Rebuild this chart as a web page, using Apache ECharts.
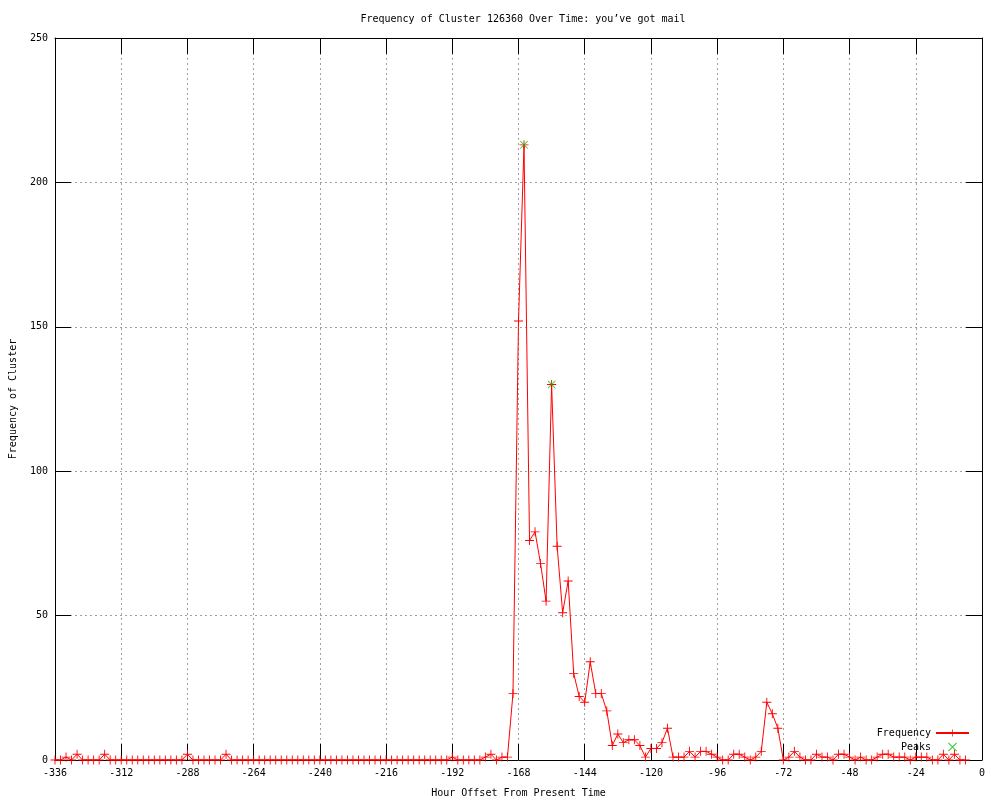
<!DOCTYPE html>
<html>
<head>
<meta charset="utf-8">
<script src="https://cdn.jsdelivr.net/npm/echarts@6/dist/echarts.min.js"></script>
<style>html,body{margin:0;padding:0;background:#fff}#c{width:1000px;height:800px}</style>
</head>
<body>
<div id="c"></div>
<script>
const titleText = 'Frequency of Cluster 126360 Over Time: you’ve got mail';
const xName = 'Hour Offset From Present Time';
const yName = 'Frequency of Cluster';
const xTicks = [-336, 0, 24];   // min, max, interval
const yTicks = [0, 250, 50];
const hours = [
  -336,-334,-332,-330,-328,-326,-324,-322,-320,-318,-316,-314,
  -312,-310,-308,-306,-304,-302,-300,-298,-296,-294,-292,-290,
  -288,-286,-284,-282,-280,-278,-276,-274,-272,-270,-268,-266,
  -264,-262,-260,-258,-256,-254,-252,-250,-248,-246,-244,-242,
  -240,-238,-236,-234,-232,-230,-228,-226,-224,-222,-220,-218,
  -216,-214,-212,-210,-208,-206,-204,-202,-200,-198,-196,-194,
  -192,-190,-188,-186,-184,-182,-180,-178,-176,-174,-172,-170,
  -168,-166,-164,-162,-160,-158,-156,-154,-152,-150,-148,-146,
  -144,-142,-140,-138,-136,-134,-132,-130,-128,-126,-124,-122,
  -120,-118,-116,-114,-112,-110,-108,-106,-104,-102,-100,-98,
  -96,-94,-92,-90,-88,-86,-84,-82,-80,-78,-76,-74,
  -72,-70,-68,-66,-64,-62,-60,-58,-56,-54,-52,-50,
  -48,-46,-44,-42,-40,-38,-36,-34,-32,-30,-28,-26,
  -24,-22,-20,-18,-16,-14,-12,-10,-8,-6
];
const frequency = [
  0,0,1,0,2,0,0,0,0,2,0,0,
  0,0,0,0,0,0,0,0,0,0,0,0,
  2,0,0,0,0,0,0,2,0,0,0,0,
  0,0,0,0,0,0,0,0,0,0,0,0,
  0,0,0,0,0,0,0,0,0,0,0,0,
  0,0,0,0,0,0,0,0,0,0,0,0,
  1,0,0,0,0,0,1,2,0,1,1,23,
  152,213,76,79,68,55,130,74,51,62,30,22,
  20,34,23,23,17,5,9,6,7,7,5,1,
  4,4,6,11,1,1,1,3,1,3,3,2,
  1,0,0,2,2,1,0,1,3,20,16,11,
  0,1,3,1,0,0,2,1,1,0,2,2,
  1,0,1,0,0,1,2,2,1,1,1,0,
  1,1,1,0,0,2,0,2,0,0
];
const peakHours = [-166, -156];
const peakValues = [213, 130];

const FONT = 'DejaVu Sans Mono';
const plusPath = 'path://M0,4.5H10V5.5H0Z M4.5,0H5.5V10H4.5Z';
const crossPath = 'path://M0,0.8L0.8,0L10,9.2L9.2,10Z M9.2,0L10,0.8L0.8,10L0,9.2Z';

const freqData = hours.map((h, i) => [h, frequency[i]]);
const peakData = peakHours.map((h, i) => [h, peakValues[i]]);

const chart = echarts.init(document.getElementById('c'), null, {renderer: 'canvas'});
const tickStyle = {inside: true, length: 16, lineStyle: {color: '#000', width: 1}};
const gridLine = {show: true, showMinLine: false, showMaxLine: false, lineStyle: {color: '#a0a0a0', type: [2, 3], width: 1}};
chart.setOption({
  animation: false,
  backgroundColor: '#fff',
  textStyle: {fontFamily: FONT, fontSize: 10, color: '#000'},
  title: {
    text: titleText, left: 518, top: 9, textAlign: 'center',
    textStyle: {fontFamily: FONT, fontSize: 10, fontWeight: 'normal', color: '#000'}
  },
  grid: {left: 55, right: 18, top: 38, bottom: 40, containLabel: false, outerBoundsMode: 'none'},
  legend: {
    orient: 'vertical', right: 30, top: 728, align: 'right', padding: 0,
    itemWidth: 33, itemHeight: 9, itemGap: 4,
    textStyle: {fontFamily: FONT, fontSize: 10, color: '#000'},
    data: ['Frequency', 'Peaks']
  },
  xAxis: [{
    type: 'value', min: xTicks[0], max: xTicks[1], interval: xTicks[2], position: 'bottom',
    name: xName, nameLocation: 'middle', nameGap: 28,
    nameTextStyle: {fontFamily: FONT, fontSize: 10, color: '#000'},
    axisLine: {onZero: false, lineStyle: {color: '#000', width: 1}},
    axisTick: tickStyle,
    axisLabel: {fontFamily: FONT, fontSize: 10, color: '#000', margin: 8},
    splitLine: gridLine
  }, {
    type: 'value', min: xTicks[0], max: xTicks[1], interval: xTicks[2], position: 'top',
    axisLine: {onZero: false, lineStyle: {color: '#000', width: 1}},
    axisTick: tickStyle, axisLabel: {show: false}, splitLine: {show: false}
  }],
  yAxis: [{
    type: 'value', min: yTicks[0], max: yTicks[1], interval: yTicks[2], position: 'left',
    name: yName, nameLocation: 'middle', nameGap: 37, nameRotate: 90,
    nameTextStyle: {fontFamily: FONT, fontSize: 10, color: '#000'},
    axisLine: {show: true, onZero: false, lineStyle: {color: '#000', width: 1}},
    axisTick: tickStyle,
    axisLabel: {fontFamily: FONT, fontSize: 10, color: '#000', margin: 7},
    splitLine: gridLine
  }, {
    type: 'value', min: yTicks[0], max: yTicks[1], interval: yTicks[2], position: 'right',
    axisLine: {show: true, onZero: false, lineStyle: {color: '#000', width: 1}},
    axisTick: tickStyle, axisLabel: {show: false}, splitLine: {show: false}
  }],
  series: [{
    name: 'Frequency', type: 'line', data: freqData,
    symbol: plusPath, symbolSize: 9, showAllSymbol: true,
    lineStyle: {color: '#ff0000', width: 1},
    itemStyle: {color: '#ff0000'},
    z: 3
  }, {
    name: 'Peaks', type: 'scatter', data: peakData,
    symbol: crossPath, symbolSize: 8,
    itemStyle: {color: '#00c000'},
    z: 4
  }]
});
</script>
</body>
</html>
